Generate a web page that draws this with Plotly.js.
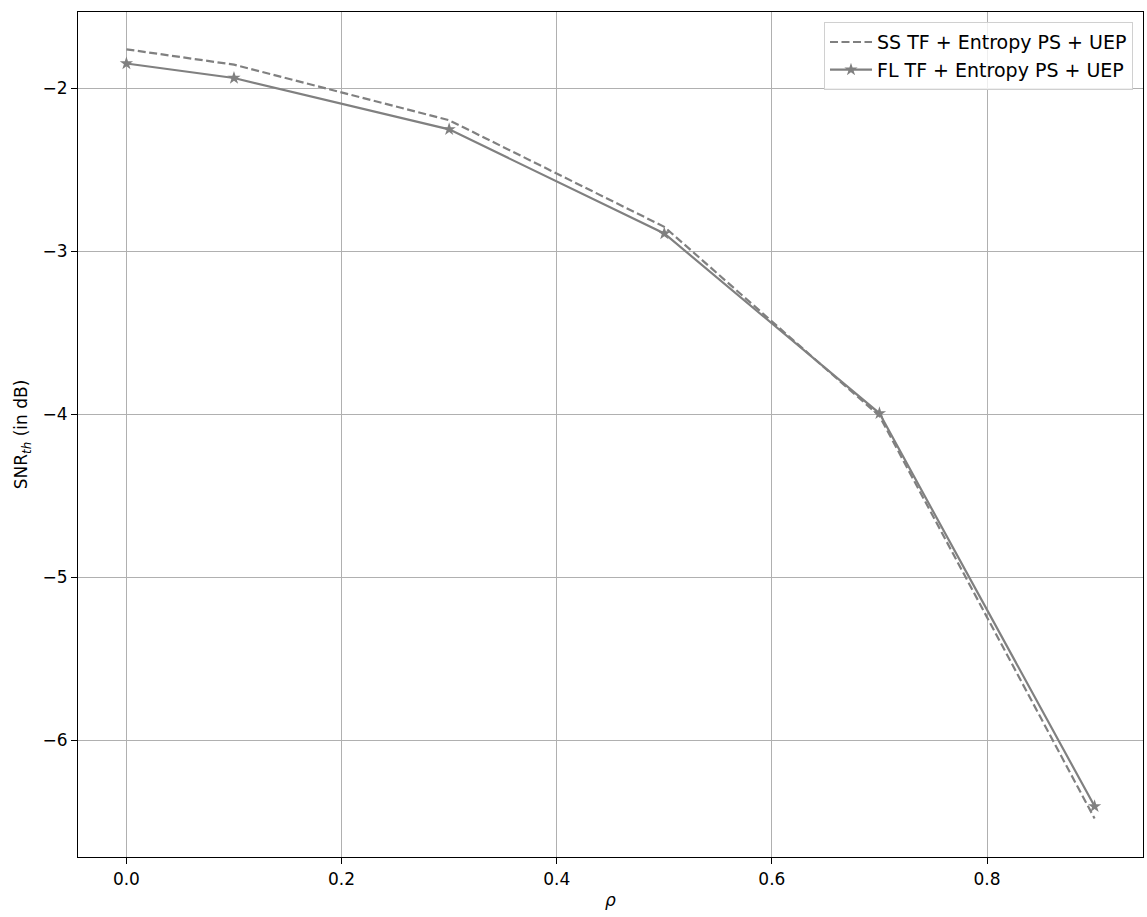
<!DOCTYPE html>
<html>
<head>
<meta charset="utf-8">
<script src="https://cdn.plot.ly/plotly-3.0.1.min.js"></script>
<style>html,body{margin:0;padding:0;background:#fff;}#chart{width:1147px;height:917px;}</style>
</head>
<body>
<div id="chart"></div>
<script>
const rho = [0.0, 0.1, 0.3, 0.5, 0.7, 0.9];
const ssValues = [-1.761, -1.855, -2.196, -2.85, -4.01, -6.48];
const flValues = [-1.848, -1.937, -2.252, -2.891, -3.994, -6.405];
const seriesNames = ["SS TF + Entropy PS + UEP", "FL TF + Entropy PS + UEP"];

const font = {family: "DejaVu Sans, sans-serif", size: 17, color: "#000"};
const traces = [
  {x: rho, y: ssValues, name: seriesNames[0], mode: "lines",
   line: {color: "#808080", width: 2.2, dash: "8px,3.5px"}},
  {x: rho, y: flValues, name: seriesNames[1], mode: "lines+markers",
   line: {color: "#808080", width: 2.2},
   marker: {symbol: "star", size: 10, color: "#808080"}}
];
const axisCommon = {
  showline: true, mirror: true, linecolor: "#000", linewidth: 1.2,
  ticks: "outside", ticklen: 6, tickwidth: 1.2, tickcolor: "#000",
  showgrid: true, gridcolor: "#b0b0b0", gridwidth: 1.1, zeroline: false,
  tickfont: font
};
const layout = {
  width: 1147, height: 917,
  margin: {l: 78, r: 4, t: 12, b: 60},
  paper_bgcolor: "#fff", plot_bgcolor: "#fff",
  font: font,
  showlegend: true,
  legend: {x: 0.9906, y: 0.988, xanchor: "right", yanchor: "top",
    bgcolor: "rgba(255,255,255,0.8)", bordercolor: "#d0d0d0", borderwidth: 1,
    itemwidth: 42, tracegroupgap: 0,
    font: {family: "DejaVu Sans, sans-serif", size: 19, color: "#000"}},
  xaxis: Object.assign({}, axisCommon, {
    range: [-0.045, 0.945], tickvals: [0, 0.2, 0.4, 0.6, 0.8],
    ticktext: ["0.0", "0.2", "0.4", "0.6", "0.8"],
    title: {text: "<i>ρ</i>", font: font, standoff: 6}
  }),
  yaxis: Object.assign({}, axisCommon, {
    range: [-6.716, -1.532], tickvals: [-6, -5, -4, -3, -2],
    ticktext: ["−6", "−5", "−4", "−3", "−2"],
    title: {text: "SNR<sub><i>th</i></sub> (in dB)", font: font, standoff: 10}
  })
};
Plotly.newPlot("chart", traces, layout, {displayModeBar: false});
</script>
</body>
</html>
